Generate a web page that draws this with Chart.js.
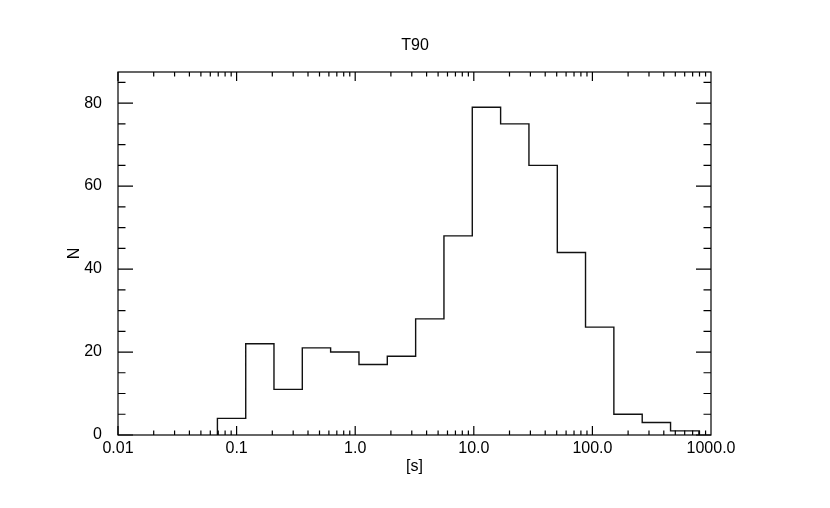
<!DOCTYPE html>
<html>
<head>
<meta charset="utf-8">
<script src="https://cdn.jsdelivr.net/npm/chart.js@4.4.0/dist/chart.umd.min.js"></script>
<style>
  html, body { margin: 0; padding: 0; background: #fff; }
  #wrap { width: 830px; height: 508px; }
</style>
</head>
<body>
<div id="wrap"><canvas id="hist"></canvas></div>
<script>
// T90 histogram: log-spaced bin edges [s] and counts per bin
const binEdges = [0.0689, 0.1194, 0.2066, 0.3581, 0.6205, 1.076, 1.865, 3.233, 5.602,
                  9.71, 16.83, 29.17, 50.6, 87.5, 151.7, 263, 456, 791];
const counts = [4, 22, 11, 21, 20, 17, 19, 28, 48, 79, 75, 65, 44, 26, 5, 3, 1];
const xTicks = [0.01, 0.1, 1, 10, 100, 1000];
const xTickLabels = ['0.01', '0.1', '1.0', '10.0', '100.0', '1000.0'];
const yTicks = [0, 20, 40, 60, 80];

// outline of the histogram as stepped points
const stepPts = [{ x: binEdges[0], y: 0 }];
counts.forEach((c, i) => stepPts.push({ x: binEdges[i + 1], y: c }));
stepPts.push({ x: binEdges[binEdges.length - 1], y: 0 });

Chart.defaults.font.family = "'Liberation Sans', Arial, sans-serif";
Chart.defaults.color = '#000';

// frame + inward tick marks on all four sides (IDL style)
const frameTicks = {
  id: 'frameTicks',
  afterDraw(chart) {
    const { ctx, chartArea: a, scales: { x, y } } = chart;
    ctx.save();
    ctx.strokeStyle = '#000';
    ctx.lineWidth = 1.2;
    ctx.strokeRect(a.left, a.top, a.right - a.left, a.bottom - a.top);
    ctx.beginPath();
    for (let d = -2; d <= 2; d++) {
      for (let k = 1; k <= 9; k++) {
        const v = k * Math.pow(10, d);
        const px = x.getPixelForValue(v);
        const len = k === 1 ? 9 : 4.5;
        ctx.moveTo(px, a.bottom); ctx.lineTo(px, a.bottom - len);
        ctx.moveTo(px, a.top); ctx.lineTo(px, a.top + len);
      }
    }
    for (let v = 0; v <= y.max; v += 5) {
      const py = y.getPixelForValue(v);
      const len = v % 20 === 0 ? 15 : 7.5;
      ctx.moveTo(a.left, py); ctx.lineTo(a.left + len, py);
      ctx.moveTo(a.right, py); ctx.lineTo(a.right - len, py);
    }
    ctx.stroke();
    ctx.restore();
  }
};

new Chart(document.getElementById('hist'), {
  type: 'line',
  data: {
    datasets: [{
      label: 'T90',
      data: stepPts,
      stepped: 'after',
      borderColor: '#111',
      borderWidth: 1.4,
      pointRadius: 0,
      fill: false
    }]
  },
  options: {
    responsive: true,
    maintainAspectRatio: false,
    animation: false,
    layout: { padding: 0 },
    plugins: {
      legend: { display: false },
      tooltip: { enabled: false },
      title: {
        display: true,
        text: 'T90',
        font: { size: 16, weight: 'normal' },
        padding: { top: 36.4, bottom: 16.4 }
      }
    },
    scales: {
      x: {
        type: 'logarithmic',
        min: 0.01,
        max: 1000,
        grid: { display: false },
        border: { display: false },
        afterBuildTicks: s => { s.ticks = xTicks.map(v => ({ value: v })); },
        afterFit: s => { s.height = 73; },
        ticks: {
          autoSkip: false,
          maxRotation: 0,
          padding: -4,
          font: { size: 16 },
          callback: (v) => xTickLabels[xTicks.indexOf(v)]
        },
        title: { display: true, text: '[s]', font: { size: 16 }, padding: { top: 0, bottom: 32 } }
      },
      y: {
        min: 0,
        max: 87.5,
        grid: { display: false },
        border: { display: false },
        afterBuildTicks: s => { s.ticks = yTicks.map(v => ({ value: v })); },
        afterFit: s => { s.width = 118; },
        ticks: { padding: 8, font: { size: 16 } },
        title: { display: true, text: 'N', font: { size: 16 }, padding: { top: 65, bottom: 0 } }
      },
      // empty right-hand axis, only reserves the right margin
      yRight: {
        position: 'right',
        min: 0,
        max: 87.5,
        grid: { display: false },
        border: { display: false },
        ticks: { display: false },
        afterFit: s => { s.width = 119; }
      }
    }
  },
  plugins: [frameTicks]
});
</script>
</body>
</html>
